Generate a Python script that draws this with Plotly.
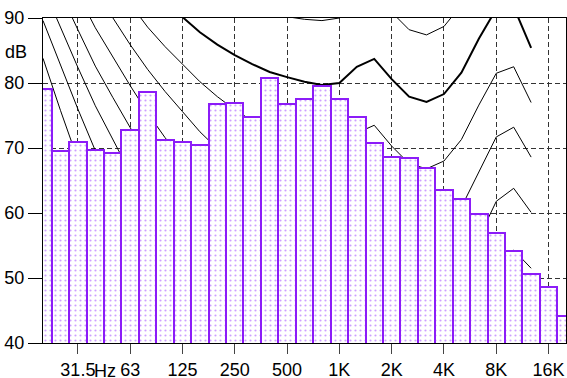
import plotly.graph_objects as go

# 1/3-octave band names (20 Hz .. 20 kHz)
bands = ["20", "25", "31.5", "40", "50", "63", "80", "100", "125", "160", "200", "250",
         "315", "400", "500", "630", "800", "1K", "1.25K", "1.6K", "2K", "2.5K", "3.15K",
         "4K", "5K", "6.3K", "8K", "10K", "12.5K", "16K", "20K"]
# measured band levels, dB
levels = [79.1, 69.6, 71.0, 69.7, 69.2, 72.7, 78.6, 71.2, 70.9, 70.4, 76.7, 76.9, 74.8,
          80.7, 76.8, 77.6, 79.5, 77.6, 74.7, 70.8, 68.6, 68.5, 66.9, 63.5, 62.2, 59.8,
          57.0, 54.2, 50.6, 48.6, 44.2]

# equal-loudness contours (20 Hz .. 12.5 kHz)
contour_bands = bands[:29]
phon10 = [83.8, 75.8, 68.2, 61.1, 55.0, 49.0, 43.2, 38.1, 33.5, 28.8, 24.8, 21.3, 18.1, 15.1, 13.0,
          11.2, 10.0, 10.0, 11.3, 10.4, 7.3, 4.5, 3.0, 3.8, 7.5, 14.3, 21.0, 23.4, 22.3]
phon20 = [89.6, 82.7, 76.0, 69.6, 64.0, 58.6, 53.2, 48.4, 43.9, 39.4, 35.5, 32.0, 28.7, 25.7, 23.4,
          21.5, 20.1, 20.0, 21.5, 21.4, 18.2, 15.4, 14.3, 15.1, 18.6, 25.0, 31.5, 34.4, 33.0]
phon30 = [94.8, 88.5, 82.4, 76.5, 71.3, 66.2, 61.2, 56.8, 52.6, 48.4, 44.8, 41.5, 38.4, 35.5, 33.4,
          31.5, 30.1, 30.0, 31.6, 32.0, 28.8, 26.0, 25.0, 26.0, 29.4, 35.5, 41.7, 44.6, 42.5]
phon40 = [99.9, 93.9, 88.2, 82.6, 77.8, 73.1, 68.5, 64.4, 60.6, 56.7, 53.4, 50.4, 47.6, 45.0, 43.1,
          41.3, 40.1, 40.0, 41.8, 42.5, 39.2, 36.5, 35.6, 36.6, 40.0, 45.8, 51.8, 54.3, 51.5]
phon50 = [104.7, 99.1, 93.7, 88.5, 84.0, 79.6, 75.4, 71.6, 68.2, 64.7, 61.7, 59.0, 56.5, 54.3, 52.6,
          51.1, 50.0, 50.0, 52.0, 52.9, 49.6, 46.9, 46.1, 47.1, 50.5, 56.1, 61.8, 63.8, 60.1]
phon60 = [109.5, 104.2, 99.1, 94.2, 90.0, 85.9, 82.1, 78.7, 75.6, 72.5, 69.9, 67.5, 65.4, 63.5, 62.1,
          60.8, 59.9, 60.0, 62.2, 63.2, 60.0, 57.3, 56.6, 57.6, 60.9, 66.4, 71.7, 73.2, 68.6]
phon70 = [114.3, 109.2, 104.4, 99.8, 95.9, 92.2, 88.6, 85.6, 82.9, 80.2, 77.9, 75.9, 74.2, 72.6, 71.5,
          70.5, 69.8, 70.0, 72.3, 73.5, 70.3, 67.6, 66.8, 68.0, 71.3, 76.6, 81.5, 82.5, 77.0]
phon80 = [119.0, 114.2, 109.6, 105.3, 101.7, 98.4, 95.2, 92.5, 90.1, 87.8, 85.9, 84.3, 82.9, 81.7, 80.9,
          80.2, 79.7, 80.0, 82.5, 83.7, 80.6, 77.9, 77.1, 78.3, 81.6, 86.8, 91.4, 91.7, 85.4]
phon90 = [123.7, 119.2, 114.9, 110.9, 107.5, 104.5, 101.7, 99.3, 97.3, 95.4, 93.9, 92.6, 91.6, 90.8, 90.2,
          89.8, 89.6, 90.0, 92.6, 94.0, 90.9, 88.2, 87.4, 88.7, 92.0, 97.0, 101.3, 101.0, 93.7]
contours = [("10", phon10), ("20", phon20), ("30", phon30), ("40", phon40), ("50", phon50),
            ("60", phon60), ("70", phon70), ("80", phon80), ("90", phon90)]

x_tickvals = ["31.5", "63", "125", "250", "500", "1K", "2K", "4K", "8K", "16K"]
x_ticktext = ["31.5", "63", "125", "250", "500", "1K", "2K", "4K", "8K", "16K"]
y_tickvals = [40, 50, 60, 70, 80, 90]

FONT = "Liberation Sans, Arial, sans-serif"
PURPLE = "#8c1cf8"

fig = go.Figure()
for name, vals in contours:
    fig.add_trace(go.Scatter(
        x=contour_bands, y=vals, mode="lines", name=name + " phon",
        line=dict(color="black", width=2 if name == "80" else 1),
        xaxis="x", yaxis="y", showlegend=False, hoverinfo="skip"))

fig.add_trace(go.Bar(
    x=bands, y=levels, xaxis="x2", yaxis="y2", width=1, showlegend=False,
    marker=dict(color="white",
                line=dict(color=PURPLE, width=2),
                pattern=dict(shape=".", fgcolor="#9a40ff", bgcolor="white",
                             size=5, solidity=0.15, fillmode="overlay"))))

axis_common = dict(categoryorder="array", categoryarray=bands, range=[0, 30])
fig.update_layout(
    width=567, height=378,
    margin=dict(l=43, r=1, t=18, b=35),
    paper_bgcolor="white", plot_bgcolor="white",
    bargap=0,
    font=dict(family=FONT, size=18, color="black"),
    xaxis=dict(**axis_common, type="category", automargin=False,
               tickmode="array", tickvals=x_tickvals, ticktext=x_ticktext,
               ticks="outside", ticklen=10, tickwidth=1, tickcolor="#444",
               tickfont=dict(family=FONT, size=18, color="black"),
               showgrid=True, gridcolor="#333", gridwidth=1, griddash="5px,3px",
               showline=True, linecolor="black", linewidth=1, mirror=True,
               layer="below traces", zeroline=False),
    yaxis=dict(range=[40, 90], tickmode="array", tickvals=y_tickvals, automargin=False,
               ticks="outside", ticklen=14, tickwidth=1, tickcolor="black",
               tickfont=dict(family=FONT, size=18, color="black"),
               showgrid=True, gridcolor="#333", gridwidth=1, griddash="5px,3px",
               showline=True, linecolor="black", linewidth=1, mirror=True,
               layer="below traces", zeroline=False),
    xaxis2=dict(**axis_common, type="category", overlaying="x", visible=False,
                showgrid=False, automargin=False),
    yaxis2=dict(range=[40, 90], overlaying="y", visible=False, showgrid=False,
                automargin=False),
)

fig.add_annotation(text="dB", xref="paper", yref="y", x=-0.051, y=84.7,
                   xanchor="center", yanchor="middle", showarrow=False,
                   font=dict(family=FONT, size=18, color="black"))
fig.add_annotation(text="Hz", xref="paper", yref="paper", x=0.119, y=-0.05,
                   xanchor="center", yanchor="top", showarrow=False,
                   font=dict(family=FONT, size=18, color="black"))

fig.write_html("out.html", config={"displayModeBar": False},
               post_script="document.body.style.margin='0';")
